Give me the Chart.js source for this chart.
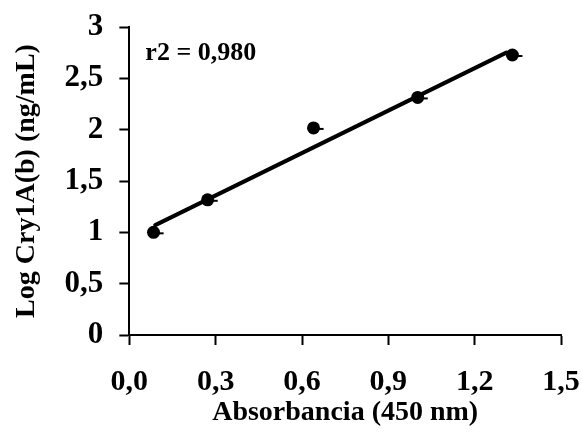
<!DOCTYPE html>
<html>
<head>
<meta charset="utf-8">
<script src="https://cdn.jsdelivr.net/npm/chart.js@4"></script>
<style>
  html, body { margin: 0; padding: 0; background: #fff; }
  #wrap { width: 582px; height: 435px; }
</style>
</head>
<body>
<div id="wrap"><canvas id="c" width="582" height="435"></canvas></div>
<script>
// Data
const absorbance = [0.084, 0.272, 0.640, 1.002, 1.331];
const logConc    = [1.00, 1.317, 2.017, 2.314, 2.727];
const errX       = [0.035, 0.035, 0.035, 0.035, 0.035];
const trendX     = [0.09, 1.31];
const trendY     = [1.07, 2.75];
const xTicks     = [0.0, 0.3, 0.6, 0.9, 1.2, 1.5];
const yTicks     = [0, 0.5, 1, 1.5, 2, 2.5, 3];
const r2Label    = 'r2 = 0,980';
const xTitle     = 'Absorbancia (450 nm)';
const yTitle     = 'Log Cry1A(b) (ng/mL)';

const FONT = '"Liberation Serif", "Times New Roman", serif';

const pointsData = absorbance.map((x, i) => ({ x: x, y: logConc[i] }));
const trendData  = trendX.map((x, i) => ({ x: x, y: trendY[i] }));

const extras = {
  id: 'extras',
  afterDatasetsDraw(chart) {
    const { ctx, scales: { x, y }, chartArea } = chart;
    ctx.save();
    ctx.strokeStyle = '#000';
    ctx.lineWidth = 2;
    absorbance.forEach((v, i) => {
      const px0 = x.getPixelForValue(v);
      const px1 = x.getPixelForValue(v + errX[i]);
      const py  = y.getPixelForValue(logConc[i]) + 1;
      ctx.beginPath();
      ctx.moveTo(px0, py);
      ctx.lineTo(px1, py);
      ctx.stroke();
    });
    ctx.fillStyle = '#000';
    ctx.font = 'bold 26px ' + FONT;
    ctx.textBaseline = 'alphabetic';
    ctx.textAlign = 'left';
    ctx.fillText(r2Label, chartArea.left + 16, chartArea.top + 33);
    ctx.restore();
  }
};

new Chart(document.getElementById('c'), {
  type: 'scatter',
  data: {
    datasets: [
      {
        data: trendData,
        showLine: true,
        borderColor: '#000',
        borderWidth: 4,
        pointRadius: 0,
        borderCapStyle: 'round'
      },
      {
        data: pointsData,
        pointRadius: 6.5,
        pointBackgroundColor: '#000',
        pointBorderColor: '#000',
        pointBorderWidth: 0
      }
    ]
  },
  options: {
    responsive: false,
    animation: false,
    devicePixelRatio: 1,
    layout: { padding: { top: 0, right: 0, bottom: 2, left: 10 } },
    plugins: { legend: { display: false }, tooltip: { enabled: false } },
    scales: {
      x: {
        type: 'linear',
        min: 0, max: 1.5,
        afterBuildTicks(axis) { axis.ticks = xTicks.map(v => ({ value: v })); },
        afterFit(axis) { axis.height = 98; axis.paddingRight = 21; },
        ticks: {
          color: '#000',
          font: { family: FONT, size: 30, weight: 'bold' },
          padding: 19,
          maxRotation: 0,
          callback: v => v.toFixed(1).replace('.', ',')
        },
        grid: { drawOnChartArea: false, tickLength: 10, tickWidth: 2, tickColor: '#000' },
        border: { color: '#000', width: 2 },
        title: {
          display: true, text: xTitle, color: '#000',
          font: { family: FONT, size: 28, weight: 'bold' },
          padding: { top: 0, bottom: 3 }
        }
      },
      y: {
        type: 'linear',
        min: 0, max: 3,
        afterBuildTicks(axis) { axis.ticks = yTicks.map(v => ({ value: v })); },
        afterFit(axis) { axis.paddingTop = 27; },
        ticks: {
          color: '#000',
          font: { family: FONT, size: 31, weight: 'bold' },
          padding: 16,
          callback: v => String(v).replace('.', ',')
        },
        grid: { drawOnChartArea: false, tickLength: 10, tickWidth: 2, tickColor: '#000' },
        border: { color: '#000', width: 2 },
        title: {
          display: true, text: yTitle, color: '#000',
          font: { family: FONT, size: 28, weight: 'bold' },
          padding: { top: 0, bottom: 5 }
        }
      }
    }
  },
  plugins: [extras]
});
</script>
</body>
</html>
